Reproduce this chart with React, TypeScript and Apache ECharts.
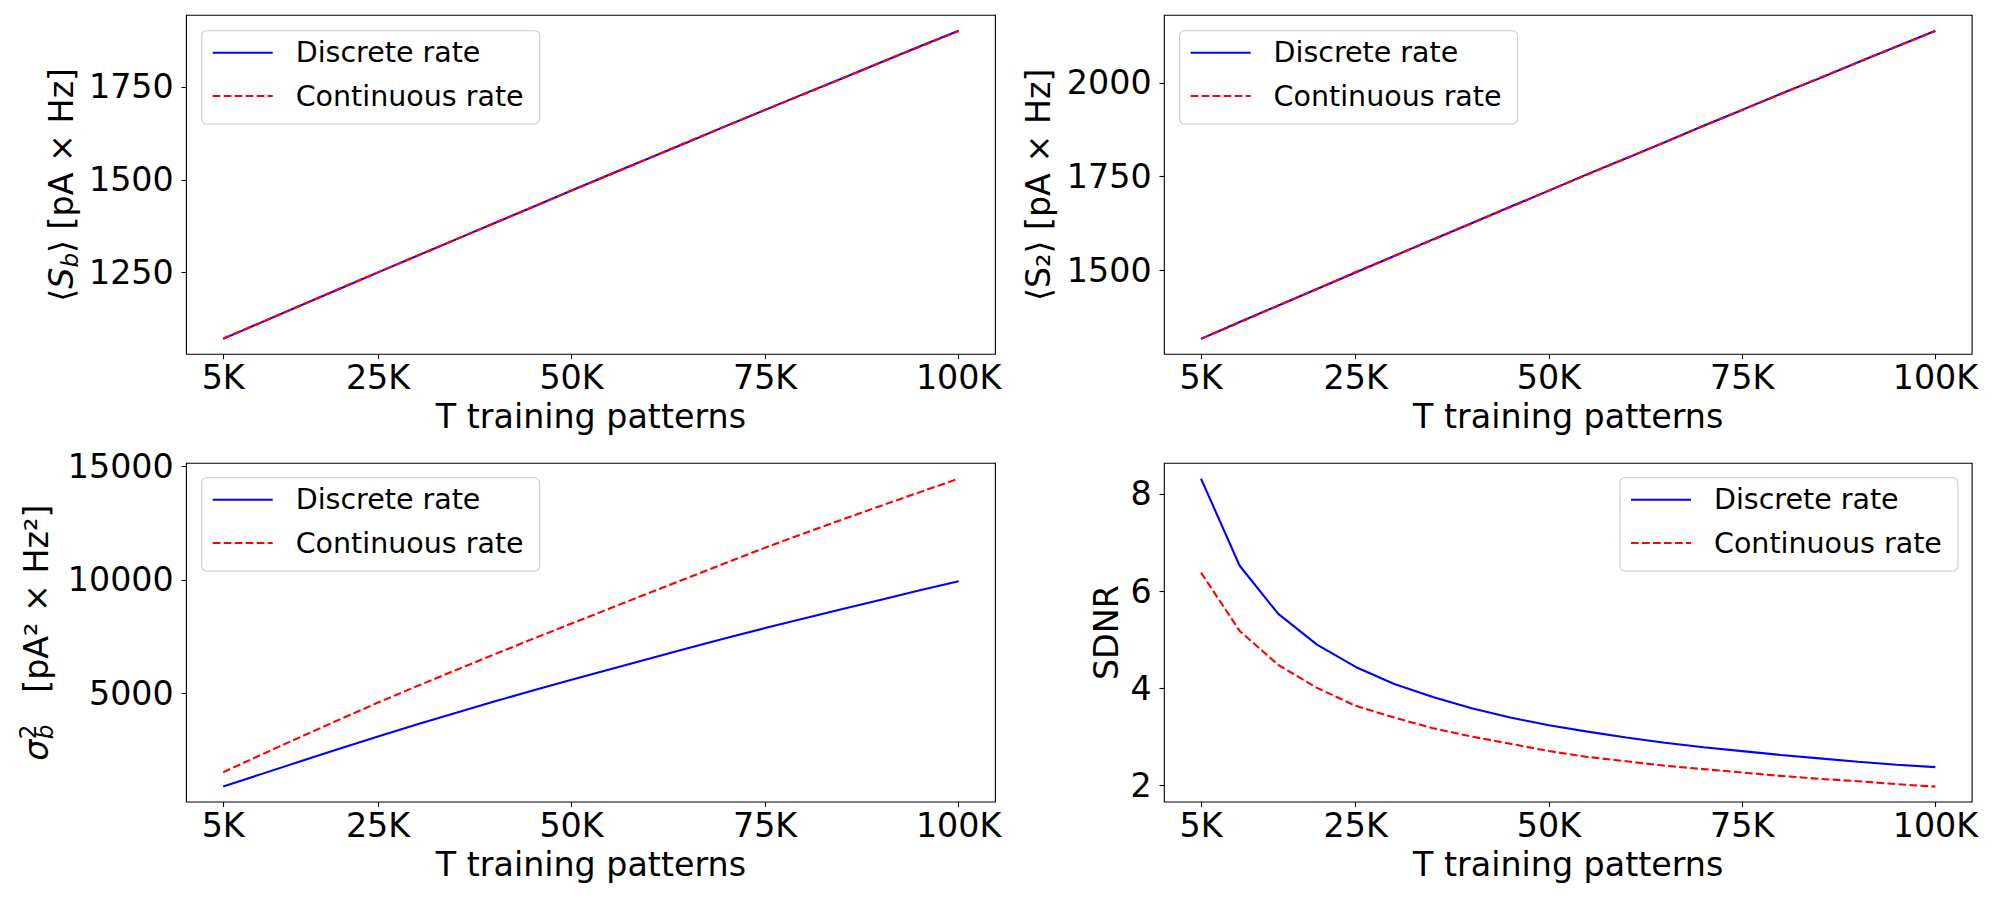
import React, { useEffect, useRef } from "react";
import * as echarts from "echarts";

const FONT = "DejaVu Sans";

// Training patterns (in thousands)
const T_K = [5, 10, 15, 20, 25, 30, 35, 40, 45, 50, 55, 60, 65, 70, 75, 80, 85, 90, 95, 100];
const X_TICKS = [5, 25, 50, 75, 100];

// <S_b>
const sbDiscrete = [1072, 1117, 1162, 1206, 1251, 1295, 1339, 1383, 1427, 1471, 1515, 1558, 1601, 1645, 1688, 1731, 1773, 1816, 1859, 1901];
const sbContinuous = [1073, 1117, 1162, 1207, 1251, 1295, 1339, 1383, 1427, 1471, 1514, 1558, 1602, 1645, 1688, 1730, 1773, 1816, 1858, 1900];
const sbTicks = [1250, 1500, 1750];

// <S_2>
const s2Discrete = [1318, 1363, 1407, 1451, 1495, 1539, 1583, 1626, 1670, 1713, 1757, 1799, 1842, 1886, 1928, 1971, 2012, 2055, 2097, 2139];
const s2Continuous = [1318, 1362, 1407, 1451, 1496, 1539, 1582, 1626, 1669, 1713, 1756, 1799, 1842, 1885, 1928, 1970, 2013, 2055, 2097, 2138];
const s2Ticks = [1500, 1750, 2000];

// sigma_b^2
const varDiscrete = [910, 1470, 2020, 2570, 3110, 3640, 4150, 4650, 5140, 5610, 6070, 6530, 6990, 7440, 7880, 8300, 8720, 9130, 9540, 9940];
const varContinuous = [1540, 2325, 3095, 3855, 4605, 5320, 6025, 6720, 7405, 8080, 8752, 9422, 10089, 10754, 11416, 12041, 12656, 13261, 13858, 14448];
const varTicks = [5000, 10000, 15000];

// SDNR
const sdnrDiscrete = [8.31, 6.52, 5.53, 4.9, 4.44, 4.09, 3.82, 3.59, 3.4, 3.24, 3.11, 2.99, 2.88, 2.79, 2.71, 2.63, 2.56, 2.49, 2.43, 2.38];
const sdnrContinuous = [6.38, 5.18, 4.48, 4.01, 3.64, 3.4, 3.18, 3.01, 2.86, 2.71, 2.59, 2.5, 2.41, 2.34, 2.27, 2.2, 2.14, 2.09, 2.03, 1.98];
const sdnrTicks = [2, 4, 6, 8];

const NAMES = ["Discrete rate", "Continuous rate"];

const TICK_FS = 33.3;
const LEGEND_FS = 28.5;

const grids = [
  { left: 186.4, top: 15.3, width: 809, height: 339 },
  { left: 1164.3, top: 15.3, width: 807.8, height: 339 },
  { left: 186.4, top: 463.3, width: 809, height: 338.7 },
  { left: 1164.3, top: 463.3, width: 807.8, height: 338.7 },
];

function pad(a: number[], b: number[]) {
  const all = a.concat(b);
  const lo = Math.min(...all);
  const hi = Math.max(...all);
  const m = (hi - lo) * 0.05;
  return [lo - m, hi + m];
}

const subRich = {
  it: { fontFamily: FONT, fontSize: TICK_FS, fontStyle: "italic", color: "#000", lineHeight: 40 },
  sub: { fontFamily: FONT, fontSize: 23, fontStyle: "italic", color: "#000", lineHeight: 22, verticalAlign: "bottom" },
  sub0: { fontFamily: FONT, fontSize: 23, fontStyle: "italic", color: "#000", lineHeight: 22, verticalAlign: "bottom", width: 0 },
  sup0: { fontFamily: FONT, fontSize: 23, fontStyle: "normal", color: "#000", lineHeight: 22, verticalAlign: "top", width: 0 },
  sp: { fontFamily: FONT, fontSize: 23, lineHeight: 22, width: 7.5 },
};

const yNames = [
  { name: "⟨{it|S}{sub|b}⟩ [pA × Hz]", gap: 104.7 },
  { name: "⟨S₂⟩ [pA × Hz]", gap: 105.8 },
  { name: "{it|σ}{sp| }{sup0|2}{sub0|b}{sp| }   [pA² × Hz²]", gap: 129.7 },
  { name: "SDNR", gap: 34.4 },
];

const panels = [
  { d: sbDiscrete, c: sbContinuous, ticks: sbTicks },
  { d: s2Discrete, c: s2Continuous, ticks: s2Ticks },
  { d: varDiscrete, c: varContinuous, ticks: varTicks },
  { d: sdnrDiscrete, c: sdnrContinuous, ticks: sdnrTicks },
];

function buildOption() {
  const tickStyle = { show: true, inside: false, length: 4.86, lineStyle: { color: "#000", width: 1.1 } };
  const xAxis = panels.map((_, i) => ({
    type: "value",
    gridIndex: i,
    min: 0.25,
    max: 104.75,
    axisLine: { show: false },
    splitLine: { show: false },
    axisTick: { ...tickStyle, customValues: X_TICKS },
    axisLabel: {
      customValues: X_TICKS,
      formatter: (v: number) => `${v}K`,
      fontFamily: FONT,
      fontSize: TICK_FS,
      color: "#000",
      margin: 6.5,
      lineHeight: 34,
    },
    name: "T training patterns",
    nameLocation: "middle",
    nameGap: 45.5,
    nameTextStyle: { fontFamily: FONT, fontSize: TICK_FS, color: "#000", lineHeight: 34 },
  }));
  const yAxis = panels.map((p, i) => {
    const [lo, hi] = pad(p.d, p.c);
    return {
      type: "value",
      gridIndex: i,
      min: lo,
      max: hi,
      axisLine: { show: false },
      splitLine: { show: false },
      axisTick: { ...tickStyle, customValues: p.ticks },
      axisLabel: {
        customValues: p.ticks,
        formatter: (v: number) => String(v),
        fontFamily: FONT,
        fontSize: TICK_FS,
        color: "#000",
        margin: 12.7,
      },
      name: yNames[i].name,
      nameLocation: "middle",
      nameRotate: 90,
      nameGap: yNames[i].gap,
      nameTextStyle: { fontFamily: FONT, fontSize: TICK_FS, color: "#000", lineHeight: 40, rich: subRich },
    };
  });
  const series: any[] = [];
  panels.forEach((p, i) => {
    series.push({
      type: "line",
      name: NAMES[0],
      xAxisIndex: i,
      yAxisIndex: i,
      data: T_K.map((t, j) => [t, p.d[j]]),
      symbol: "none",
      lineStyle: { color: "#0000ff", width: 2.08 },
      itemStyle: { color: "#0000ff" },
      z: 2,
    });
    series.push({
      type: "line",
      name: NAMES[1],
      xAxisIndex: i,
      yAxisIndex: i,
      data: T_K.map((t, j) => [t, p.c[j]]),
      symbol: "none",
      lineStyle: { color: "#ff0000", width: 2.08, type: [7.7, 3.3] },
      itemStyle: { color: "#ff0000" },
      z: 3,
    });
  });
  const legendBase = {
    orient: "vertical",
    data: NAMES,
    backgroundColor: "rgba(255,255,255,0.8)",
    borderColor: "#cccccc",
    borderWidth: 1.1,
    borderRadius: 5,
    padding: [7, 16, 13, 10],
    itemWidth: 60,
    itemHeight: 30,
    itemGap: 13.3,
    selectedMode: false,
    itemStyle: { opacity: 0 },
    textStyle: { fontFamily: FONT, fontSize: LEGEND_FS, color: "#000", padding: [0, 0, 0, 18], lineHeight: 30 },
  };
  const legend = [
    { ...legendBase, left: 201.7, top: 30.7 },
    { ...legendBase, left: 1179.6, top: 30.7 },
    { ...legendBase, left: 201.7, top: 477.7 },
    { ...legendBase, right: 42.1, top: 477.7 },
  ];
  return {
    animation: false,
    backgroundColor: "#fff",
    textStyle: { fontFamily: FONT },
    grid: grids.map((g) => ({ ...g, show: true, borderColor: "#000", borderWidth: 1.1, backgroundColor: "transparent" })),
    xAxis,
    yAxis,
    legend,
    series,
  };
}

export default function App() {
  const ref = useRef<HTMLDivElement>(null);
  useEffect(() => {
    const chart = echarts.init(ref.current!, null, { renderer: "svg" });
    chart.setOption(buildOption() as any);
    return () => chart.dispose();
  }, []);
  return (
    <div
      ref={ref}
      style={{ position: "absolute", left: 0, top: 0, width: 2000, height: 900, background: "#fff" }}
    />
  );
}
